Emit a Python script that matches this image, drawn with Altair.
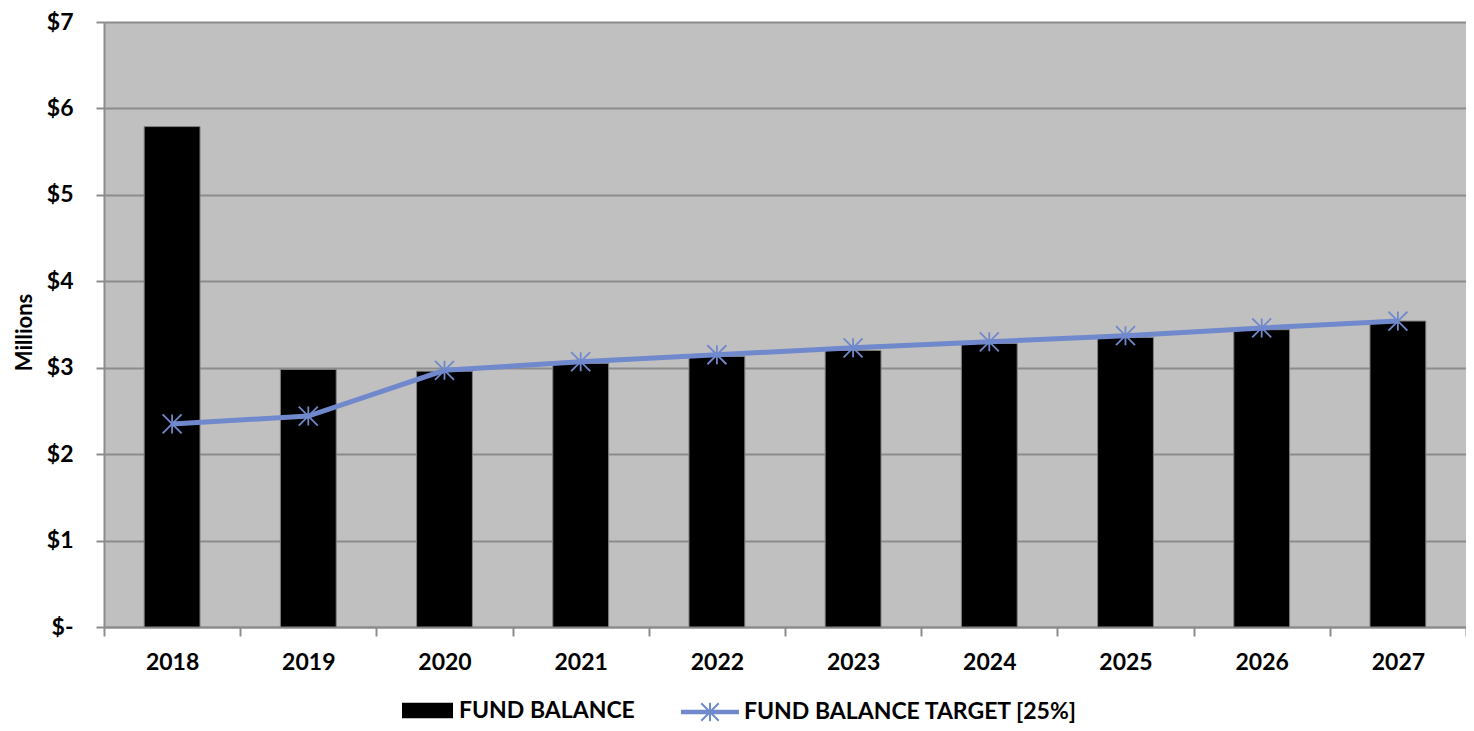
import altair as alt
import pandas as pd

years = ["2018", "2019", "2020", "2021", "2022", "2023", "2024", "2025", "2026", "2027"]
fund_balance = [5.79, 2.98, 2.96, 3.05, 3.13, 3.20, 3.28, 3.35, 3.44, 3.54]
fund_target = [2.35, 2.44, 2.97, 3.07, 3.15, 3.23, 3.30, 3.37, 3.46, 3.54]
y_ticks = [0, 1, 2, 3, 4, 5, 6, 7]
series_bar = "FUND BALANCE"
series_line = "FUND BALANCE TARGET [25%]"

bar_df = pd.DataFrame({"year": years, "value": fund_balance, "series": series_bar})
line_df = pd.DataFrame({"year": years, "value": fund_target, "series": series_line})

FONT = "Lato"
LINE_COLOR = "#7089CC"
GRID = "#8c8c8c"
ASTERISK = "M0,-1V1M-1,-1L1,1M-1,1L1,-1"
RECT = "M-1,-0.3H1V0.3H-1Z"
LEG_LINE = ("M-1,-0.045H1M-1,0H1M-1,0.045H1"
            "M0,-0.32V0.32M-0.3,-0.3L0.3,0.3M-0.3,0.3L0.3,-0.3")

x_enc = alt.X(
    "year:N",
    sort=years,
    scale=alt.Scale(paddingInner=0, paddingOuter=0),
    axis=alt.Axis(
        title=None, labelAngle=0, tickBand="extent", grid=False,
        labelFont=FONT, labelFontSize=23, labelFontWeight="bold", labelColor="black",
        labelPadding=15, tickSize=9, tickWidth=2, tickColor=GRID,
        domainColor=GRID, domainWidth=2,
    ),
)
y_enc = alt.Y(
    "value:Q",
    scale=alt.Scale(domain=[0, 7], nice=False),
    axis=alt.Axis(
        values=y_ticks,
        labelExpr="datum.value == 0 ? '$-' : '$' + datum.value",
        title="Millions", titleFont=FONT, titleFontSize=22, titleFontWeight="bold",
        titleColor="black", titleX=-80, titleY=310, titleAngle=270,
        titleAlign="center", titleBaseline="middle",
        labelFont=FONT, labelFontSize=23, labelFontWeight="bold", labelColor="black",
        labelPadding=23, tickSize=8, tickWidth=2, tickColor=GRID,
        domainColor=GRID, domainWidth=2,
        grid=True, gridColor=GRID, gridWidth=2,
    ),
)

bars = alt.Chart(bar_df).mark_bar(
    width=alt.RelativeBandSize(0.41), stroke="#808080", strokeWidth=1
).encode(
    x=x_enc,
    y=y_enc,
    fill=alt.Fill(
        "series:N",
        scale=alt.Scale(domain=[series_bar], range=["black"]),
        legend=alt.Legend(
            title=None, orient="none", legendX=298, legendY=663,
            symbolType=RECT, symbolSize=2601, symbolStrokeWidth=0,
            labelFont=FONT, labelFontSize=23, labelFontWeight="bold",
            labelColor="black", labelLimit=0, labelOffset=6,
        ),
    ),
)

stroke_enc = alt.Stroke(
    "series:N",
    scale=alt.Scale(domain=[series_line], range=[LINE_COLOR]),
    legend=alt.Legend(
        title=None, orient="none", legendX=576, legendY=660,
        symbolType=LEG_LINE, symbolSize=3364, symbolStrokeWidth=2,
        labelFont=FONT, labelFontSize=23, labelFontWeight="bold",
        labelColor="black", labelLimit=0, labelOffset=4,
    ),
)

line = alt.Chart(line_df).mark_line(strokeWidth=5).encode(
    x=alt.X("year:N", sort=years),
    y=alt.Y("value:Q"),
    stroke=stroke_enc,
)

points = alt.Chart(line_df).mark_point(
    shape=ASTERISK, size=361, filled=False, strokeWidth=1.8, opacity=1
).encode(
    x=alt.X("year:N", sort=years),
    y=alt.Y("value:Q"),
    stroke=stroke_enc,
)

chart = alt.layer(bars, line, points).properties(
    width=1362,
    height=605,
    autosize=alt.AutoSizeParams(type="none"),
    padding={"left": 96, "top": 14, "right": 0, "bottom": 96},
).configure_view(fill="#c0c0c0", stroke="transparent")

chart.save("out.html", embed_options={"renderer": "svg", "actions": False})
